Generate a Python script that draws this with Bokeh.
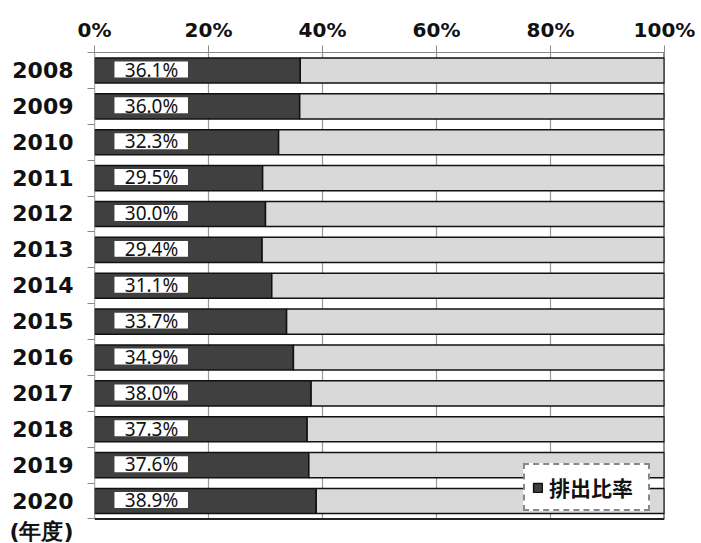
from bokeh.plotting import figure
from bokeh.models import (Range1d, FixedTicker, Legend, LegendItem, ColumnDataSource)
from bokeh.core.properties import value
from bokeh.embed import file_html
from bokeh.resources import INLINE

years = ["2008", "2009", "2010", "2011", "2012", "2013", "2014",
         "2015", "2016", "2017", "2018", "2019", "2020"]
ratio = [36.1, 36.0, 32.3, 29.5, 30.0, 29.4, 31.1, 33.7, 34.9, 38.0, 37.3, 37.6, 38.9]
x_ticks = [0, 20, 40, 60, 80, 100]
legend_label = "排出比率"
unit_label = "(年度)"

n = len(years)
idx = list(range(n))
y_top = -0.5
y_bot = n - 0.5          # bottom edge of the chart body
unit_pos = y_bot + 0.35  # where the unit label sits under the last year

src = ColumnDataSource(dict(
    y=idx,
    v=[r / 100 for r in ratio],
    one=[1.0] * n,
    lab=[f"{r:.1f}%" for r in ratio],
    bt=[i - 0.25 for i in idx],
    bb=[i + 0.195 for i in idx],
    ty=[i - 0.02 for i in idx],
))

p = figure(width=701, height=543, output_backend="svg", toolbar_location=None,
           x_range=Range1d(0, 1), y_range=Range1d(y_bot + 0.6, y_top),
           x_axis_location="above",
           min_border_left=94, min_border_right=37, min_border_top=52, min_border_bottom=3)
p.outline_line_color = None
p.background_fill_color = "white"
p.grid.grid_line_color = None

# x axis (top)
xa = p.xaxis[0]
xa.ticker = FixedTicker(ticks=[t / 100 for t in x_ticks])
xa.major_label_overrides = {t / 100: f"{t}%" for t in x_ticks}
xa.major_label_text_font = "DejaVu Sans"
xa.major_label_text_font_style = "bold"
xa.major_label_text_font_size = "20px"
xa.major_label_text_color = "#111111"
xa.axis_line_color = "#888888"
xa.major_tick_line_color = "#888888"
xa.major_tick_out = 7
xa.major_tick_in = 0
xa.minor_tick_line_color = None
xa.major_label_standoff = 4

# y axis (left)
ya = p.yaxis[0]
ya.ticker = FixedTicker(ticks=idx + [unit_pos], minor_ticks=[i - 0.5 for i in range(n + 1)])
overrides = {i: y for i, y in zip(idx, years)}
overrides[unit_pos] = unit_label
ya.major_label_overrides = overrides
ya.major_label_text_font = "DejaVu Sans"
ya.major_label_text_font_style = "bold"
ya.major_label_text_font_size = "22px"
ya.major_label_text_color = "#111111"
ya.major_tick_line_color = None
ya.minor_tick_line_color = "#888888"
ya.minor_tick_out = 7
ya.minor_tick_in = 0
ya.axis_line_color = None
ya.major_label_standoff = 14

# grid lines limited to the chart body
gx = [t / 100 for t in x_ticks]
p.segment(x0=gx[:-1], y0=[y_top] * (len(gx) - 1), x1=gx[:-1], y1=[y_bot] * (len(gx) - 1),
          line_color="#999999", line_width=1.2)

dark = p.hbar(y="y", left=0, right="v", height=0.7, source=src,
              fill_color="#404040", line_color="#111111", line_width=1.5)
p.hbar(y="y", left="v", right="one", height=0.7, source=src,
       fill_color="#d9d9d9", line_color="#111111", line_width=1.5)

p.quad(left=0.035, right=0.164, top="bt", bottom="bb", source=src,
       fill_color="white", line_color=None)
p.text(x=0.1, y="ty", text="lab", source=src, text_align="center",
       text_baseline="middle", text_font=value("Noto Sans"), text_font_size="19px",
       text_color="#111111")

# left axis line, right and bottom borders
p.segment(x0=[gx[0]], y0=[y_top], x1=[gx[0]], y1=[y_bot], line_color="#888888", line_width=1.2)
p.segment(x0=[gx[-1], gx[0]], y0=[y_top, y_bot], x1=[gx[-1], gx[-1]], y1=[y_bot, y_bot],
          line_color="#222222", line_width=2)

leg = Legend(items=[LegendItem(label=legend_label, renderers=[dark])],
             location=(429, 29), orientation="vertical",
             glyph_width=11, glyph_height=11, label_standoff=6, label_width=92,
             padding=7, margin=0, spacing=0,
             label_text_font="Noto Sans CJK JP", label_text_font_style="bold",
             label_text_font_size="21px", label_text_color="#111111",
             border_line_color="#111111", border_line_width=2, border_line_dash="6 4",
             background_fill_color="white", background_fill_alpha=1.0)
p.add_layout(leg, "center")

open("out.html", "w").write(file_html(p, INLINE))
